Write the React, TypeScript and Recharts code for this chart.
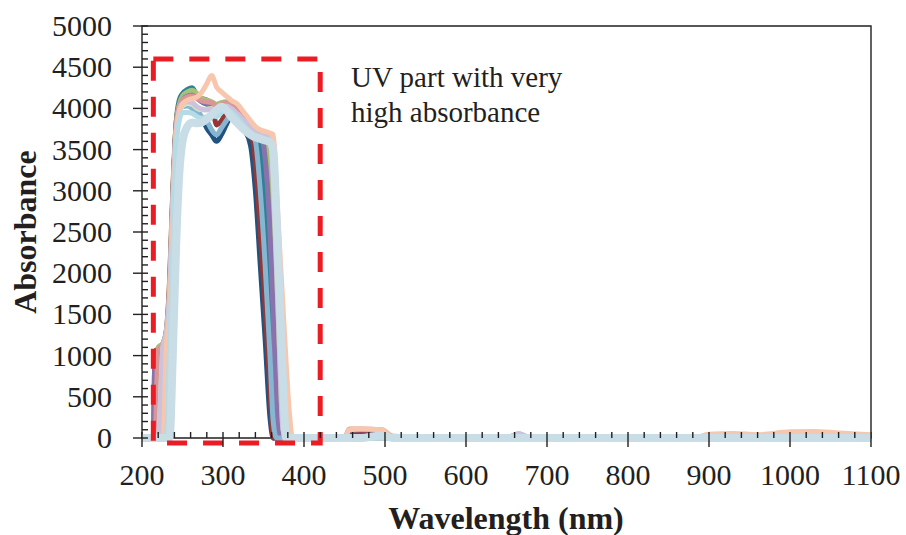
import React from 'react';
import { LineChart, Line, XAxis, YAxis, ReferenceArea, Label } from 'recharts';

// Wavelength sampling points (nm)
const WAVELENGTHS = [200, 214, 216, 220, 226, 230, 234, 238, 242, 246, 250, 256, 262, 268, 274, 280, 286, 292, 298, 304, 310, 318, 326, 334, 340, 346, 352, 358, 362, 366, 370, 374, 378, 382, 386, 400, 450, 456, 470, 496, 510, 600, 650, 665, 680, 880, 900, 930, 960, 1000, 1030, 1060, 1100];

const DARK_BLUE = [0, 0, 0, 0, 0, 1100, 1500, 2600, 3600, 3950, 4080, 4100, 4060, 3980, 3880, 3760, 3680, 3600, 3680, 3800, 3900, 3880, 3750, 3550, 3000, 2100, 1200, 250, 0, 0, 0, 0, 0, 0, 0, 0, 0, 0, 30, 0, 0, 0, 0, 0, 0, 0, 0, 0, 0, 0, 0, 0, 0];
const TEAL = [0, 0, 0, 0, 0, 1150, 1700, 2900, 3800, 4100, 4180, 4230, 4250, 4150, 4080, 4050, 4020, 3950, 3980, 4020, 4000, 3920, 3830, 3750, 3700, 3550, 2800, 1800, 800, 0, 0, 0, 0, 0, 0, 0, 0, 0, 0, 0, 0, 0, 0, 0, 0, 0, 0, 0, 0, 0, 0, 0, 0];
const DARK_RED = [0, 0, 1050, 1080, 1150, 1300, 1900, 3000, 3800, 4050, 4130, 4170, 4180, 4150, 4120, 4100, 4060, 3800, 3850, 3950, 4020, 3980, 3900, 3750, 3350, 2500, 1600, 600, 0, 0, 0, 0, 0, 0, 0, 0, 0, 60, 70, 60, 0, 0, 0, 0, 0, 0, 0, 0, 0, 0, 0, 0, 0];
const GREEN = [0, 0, 0, 1100, 1150, 1300, 1850, 2950, 3800, 4050, 4150, 4200, 4220, 4180, 4120, 4100, 4080, 4050, 4070, 4080, 4060, 4000, 3900, 3800, 3740, 3700, 3690, 3200, 2200, 1200, 300, 0, 0, 0, 0, 0, 0, 0, 0, 0, 0, 0, 0, 0, 0, 0, 0, 0, 0, 0, 0, 0, 0];
const PURPLE = [0, 0, 1030, 1060, 1120, 1250, 1800, 2900, 3750, 4000, 4100, 4150, 4160, 4120, 4080, 4060, 4030, 3980, 4000, 4030, 4020, 3960, 3870, 3790, 3740, 3700, 3400, 2500, 1500, 400, 0, 0, 0, 0, 0, 0, 0, 90, 100, 90, 0, 0, 0, 50, 0, 0, 0, 0, 0, 0, 0, 0, 0];
const ROSE = [0, 0, 0, 1080, 1130, 1270, 1800, 2900, 3750, 4020, 4100, 4140, 4150, 4120, 4090, 4080, 4070, 4030, 4050, 4070, 4060, 4000, 3900, 3820, 3760, 3720, 3700, 3690, 3620, 2900, 2000, 1100, 300, 0, 0, 0, 0, 110, 110, 100, 20, 0, 0, 0, 0, 0, 0, 0, 0, 0, 0, 0, 0];
const MED_BLUE = [0, 0, 0, 0, 0, 1150, 1600, 2700, 3650, 3950, 4020, 4030, 4000, 3950, 3900, 3850, 3740, 3680, 3760, 3850, 3930, 3920, 3820, 3720, 3600, 3000, 2100, 1000, 200, 0, 0, 0, 0, 0, 0, 0, 0, 0, 0, 0, 0, 0, 0, 0, 0, 0, 0, 0, 0, 0, 0, 0, 0];
const PALE_GREEN = [0, 0, 0, 0, 1100, 1250, 1700, 2800, 3700, 3950, 4030, 4060, 4050, 4000, 3980, 3990, 4000, 3950, 3980, 4000, 3980, 3920, 3840, 3760, 3710, 3680, 3660, 3640, 3600, 2900, 1800, 800, 100, 0, 0, 0, 0, 0, 0, 0, 0, 0, 0, 0, 0, 0, 0, 0, 0, 0, 0, 0, 0];
const LAVENDER = [0, 0, 0, 0, 1120, 1280, 1750, 2850, 3700, 3980, 4060, 4080, 4070, 4020, 3990, 3980, 3990, 3960, 4000, 4030, 4000, 3930, 3850, 3770, 3720, 3690, 3670, 3620, 3100, 2100, 1000, 100, 0, 0, 0, 0, 0, 0, 0, 0, 0, 0, 0, 55, 0, 0, 0, 0, 0, 0, 0, 0, 0];
const PEACH = [0, 0, 0, 0, 0, 1100, 1500, 2600, 3600, 3950, 4050, 4100, 4120, 4140, 4200, 4300, 4400, 4260, 4200, 4150, 4100, 4050, 3950, 3850, 3780, 3740, 3720, 3700, 3680, 3000, 2300, 1600, 900, 300, 0, 0, 0, 100, 110, 100, 10, 0, 0, 20, 0, 0, 45, 55, 40, 75, 80, 60, 40];
const PALE_CYAN = [0, 0, 0, 0, 0, 0, 1100, 2300, 3500, 3850, 3950, 3950, 3940, 3900, 3880, 3900, 3930, 3900, 3950, 3990, 3960, 3880, 3790, 3710, 3670, 3650, 3630, 3610, 3560, 2800, 1700, 600, 0, 0, 0, 0, 0, 0, 0, 0, 0, 0, 0, 0, 0, 0, 0, 0, 0, 0, 0, 0, 0];
const LIGHT_BLUE = [0, 0, 0, 0, 0, 0, 0, 1000, 2300, 3200, 3600, 3780, 3830, 3820, 3830, 3870, 3920, 3980, 4020, 3980, 3900, 3820, 3740, 3680, 3650, 3630, 3610, 3590, 3500, 2700, 1700, 700, 0, 0, 0, 0, 0, 0, 0, 30, 0, 0, 0, 0, 0, 0, 0, 0, 0, 0, 0, 0, 0];

const SERIES = [
  { key: 's1', color: '#24527f', width: 5, values: DARK_BLUE },
  { key: 's2', color: '#2e8196', width: 5, values: TEAL },
  { key: 's3', color: '#953735', width: 5, values: DARK_RED },
  { key: 's4', color: '#a3c27a', width: 5, values: GREEN },
  { key: 's5', color: '#8a73ad', width: 5, values: PURPLE },
  { key: 's6', color: '#d99694', width: 5, values: ROSE },
  { key: 's7', color: '#86b6d2', width: 5, values: MED_BLUE },
  { key: 's8', color: '#d8e4bc', width: 5, values: PALE_GREEN },
  { key: 's9', color: '#cdc2dc', width: 5, values: LAVENDER },
  { key: 's10', color: '#f8c6ac', width: 5, values: PEACH },
  { key: 's11', color: '#b5dbe6', width: 5, values: PALE_CYAN },
  { key: 's12', color: '#c8dde5', width: 8, values: LIGHT_BLUE },
];

const X_TICKS = Array.from({ length: 46 }, (_, i) => 200 + i * 20);
const Y_TICKS = Array.from({ length: 51 }, (_, i) => i * 100);

const data = WAVELENGTHS.map((w, i) => {
  const row: Record<string, number> = { w };
  SERIES.forEach((s) => {
    row[s.key] = s.values[i];
  });
  return row;
});

const FONT = '"Liberation Serif", "Times New Roman", serif';
const INK = '#231f20';

function YTick(props: any) {
  const { x, y, payload } = props;
  const v = payload.value;
  const major = v % 500 === 0;
  return (
    <g>
      <line x1={major ? x - 9 : x} x2={x + 6} y1={y} y2={y} stroke={INK} strokeWidth={1.4} />
      {major && (
        <text x={x - 30} y={y + 10} textAnchor="end" fontSize={30} fontFamily={FONT} fill={INK}>
          {v}
        </text>
      )}
    </g>
  );
}

function XTick(props: any) {
  const { x, y, payload } = props;
  const v = payload.value;
  const major = v % 100 === 0;
  return (
    <g>
      <line x1={x} x2={x} y1={y - 6} y2={major ? y + 9 : y} stroke={INK} strokeWidth={1.4} />
      {major && (
        <text x={x} y={y + 47} textAnchor="middle" fontSize={30} fontFamily={FONT} fill={INK}>
          {v}
        </text>
      )}
    </g>
  );
}

export default function App() {
  return (
    <div style={{ position: 'absolute', left: 0, top: 0, width: 906, height: 535, background: '#fff' }}>
      <LineChart width={906} height={535} data={data} margin={{ top: 26, right: 35, bottom: 0, left: 0 }}>
        <ReferenceArea
          x1={200}
          x2={1100}
          y1={0}
          y2={5000}
          fill="none"
          stroke={INK}
          strokeWidth={1.4}
          ifOverflow="visible"
          zIndex={0}
        />
        <XAxis
          dataKey="w"
          type="number"
          domain={[200, 1100]}
          ticks={X_TICKS}
          interval={0}
          height={97}
          tickSize={0}
          tickMargin={0}
          tick={XTick}
          tickLine={false}
          axisLine={false}
          zIndex={1}
        >
          <Label
            content={() => (
              <text x={506} y={529} textAnchor="middle" fontSize={32} fontWeight="bold" fontFamily={FONT} fill={INK}>
                Wavelength (nm)
              </text>
            )}
          />
        </XAxis>
        <YAxis
          type="number"
          domain={[0, 5000]}
          ticks={Y_TICKS}
          interval={0}
          width={142}
          tickSize={0}
          tickMargin={0}
          tick={YTick}
          tickLine={false}
          axisLine={false}
          zIndex={1}
        >
          <Label
            content={() => (
              <text
                x={36}
                y={232}
                transform="rotate(-90 36 232)"
                textAnchor="middle"
                fontSize={32}
                fontWeight="bold"
                fontFamily={FONT}
                fill={INK}
              >
                Absorbance
              </text>
            )}
          />
        </YAxis>
        {SERIES.map((s, i) => (
          <Line
            key={s.key}
            dataKey={s.key}
            type="monotone"
            stroke={s.color}
            strokeWidth={s.width}
            strokeLinejoin="round"
            dot={false}
            activeDot={false}
            isAnimationActive={false}
            zIndex={600 + i}
          />
        ))}
        <ReferenceArea
          x1={214}
          x2={420}
          y1={-60}
          y2={4600}
          fill="none"
          stroke="#ec1c24"
          strokeWidth={5}
          strokeDasharray="20 16"
          ifOverflow="visible"
          zIndex={900}
        />
      </LineChart>
      <svg width={906} height={535} style={{ position: 'absolute', left: 0, top: 0, pointerEvents: 'none' }}>
        <text x={351} y={87} fontSize={29} fontFamily={FONT} fill={INK}>
          UV part with very
        </text>
        <text x={351} y={122} fontSize={29} fontFamily={FONT} fill={INK}>
          high absorbance
        </text>
      </svg>
    </div>
  );
}
